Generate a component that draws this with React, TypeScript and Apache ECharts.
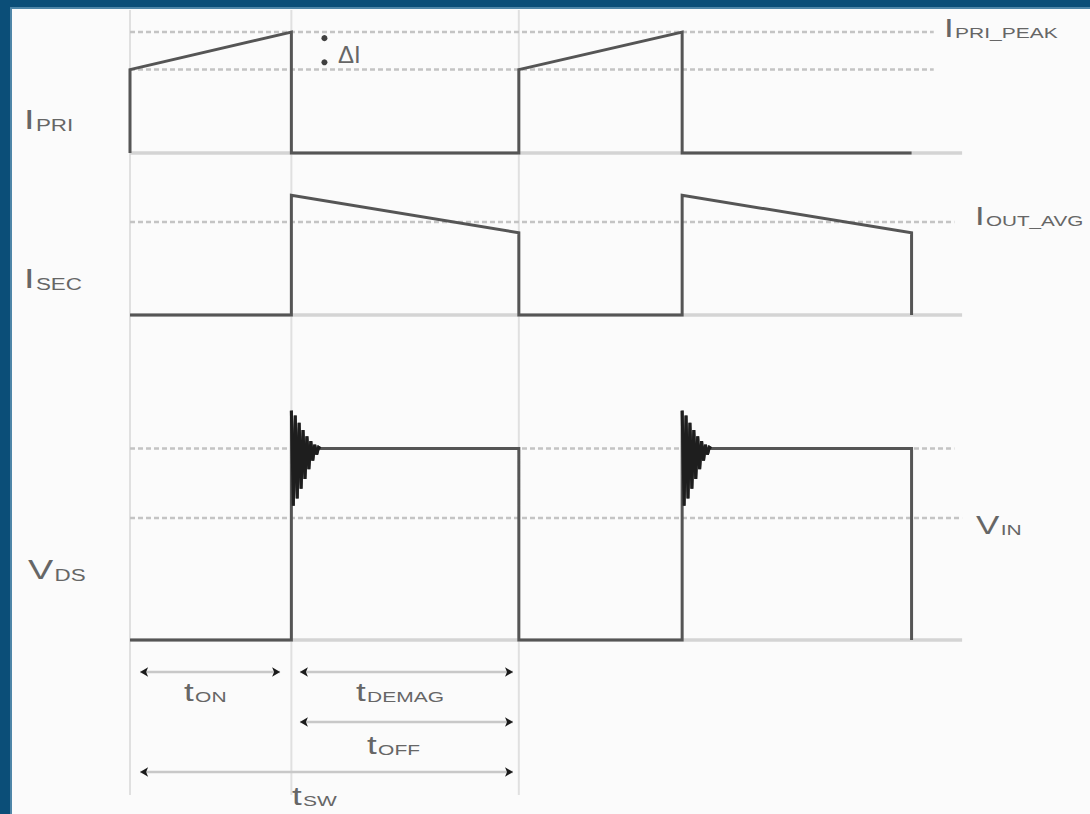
import React, { useEffect, useRef } from 'react';
import * as echarts from 'echarts';

// switching instants (time units)
const T_ON = 4.15;
const T_SW = 10;
const T_ON2 = 14.2;
const T_END2 = 20.1;
const X_MAX = 21.5;

// primary current (normalised)
const iPriTimes = [0, 0, T_ON, T_ON, T_SW, T_SW, T_ON2, T_ON2, T_END2];
const iPriValues = [0, 0.69, 1.0, 0, 0, 0.69, 1.0, 0, 0];
// secondary current
const iSecTimes = [0, T_ON, T_ON, T_SW, T_SW, T_ON2, T_ON2, T_END2, T_END2];
const iSecValues = [0, 0, 0.99, 0.68, 0, 0, 0.99, 0.68, 0];
// drain-source ringing after turn-off (offset from edge, volts)
const ringDt = [0, 0.05, 0.1, 0.15, 0.2, 0.25, 0.3, 0.35, 0.4, 0.45, 0.5, 0.55, 0.6, 0.65, 0.7, 0.75];
const ringV = [188, 110, 184, 116, 178, 124, 172, 132, 167, 140, 163, 147, 160, 152, 158, 157];
const vFlat = 157;
const vIn = 100;

// reference levels
const iPriPeak = 1.0;
const iPriValley = 0.69;
const iOutAvg = 0.77;
const refEnd = [20.67, 20.67, 21.2, 21.2, 21.4];
const baseEnd = 21.4;

// vertical guide lines
const guideTimes = [0, T_ON, T_SW];

// timing spans
const spanNames = ['ON', 'DEMAG', 'OFF', 'SW'];
const spanStart = [0.26, 4.37, 4.37, 0.26];
const spanEnd = [3.86, 9.85, 9.85, 9.85];
const spanRow = [0.5, 0.5, 1.5, 2.5];

// ΔI markers
const deltaT = 5.0;
const deltaMarks = [0.95, 0.75];

const FONT = 'Liberation Sans, Arial, sans-serif';
const TXT = '#666666';
const WAVE = '#555555';
const SX = 1.4;

function richStyle(main: number, sub: number) {
  return {
    m: { fontSize: main, fontFamily: FONT, fill: TXT, verticalAlign: 'bottom' },
    s: { fontSize: sub, fontFamily: FONT, fill: TXT, verticalAlign: 'bottom', padding: [0, 0, 0, 1] },
  } as any;
}

export default function App() {
  const ref = useRef<HTMLDivElement>(null);
  useEffect(() => {
    if (!ref.current) return;
    const chart = echarts.init(ref.current, undefined, { renderer: 'svg' });

    const pri = iPriTimes.map((t, i) => [t, iPriValues[i]]);
    const sec = iSecTimes.map((t, i) => [t, iSecValues[i]]);
    const ring = (t0: number) => ringDt.map((d, i) => [t0 + d, ringV[i]]);
    const vds = [
      [0, 0], [T_ON, 0], ...ring(T_ON), [T_SW, vFlat], [T_SW, 0],
      [T_ON2, 0], ...ring(T_ON2), [T_END2, vFlat], [T_END2, 0],
    ];

    const grids = [
      { left: 130, top: 10, width: 836, height: 785 },
      { left: 130, top: 20, width: 836, height: 133 },
      { left: 130, top: 182, width: 836, height: 133 },
      { left: 130, top: 396, width: 836, height: 244 },
      { left: 130, top: 647, width: 836, height: 150 },
    ];
    const xAxes = grids.map((_, i) => ({ type: 'value', gridIndex: i, min: 0, max: X_MAX, show: false }));
    const yAxes = [
      { type: 'value', gridIndex: 0, min: 0, max: 1, show: false },
      { type: 'value', gridIndex: 1, min: 0, max: 1.1, show: false },
      { type: 'value', gridIndex: 2, min: 0, max: 1.1, show: false },
      { type: 'value', gridIndex: 3, min: 0, max: 200, show: false },
      { type: 'value', gridIndex: 4, min: 0, max: 3, inverse: true, show: false },
    ];

    const line = (g: number, data: any[], color: string, width: number, type: any = 'solid', z = 2) => ({
      type: 'line', xAxisIndex: g, yAxisIndex: g, data, showSymbol: false, symbol: 'none',
      clip: false, silent: true, z,
      lineStyle: { color, width, type, cap: 'butt', join: 'miter' },
    });

    const series: any[] = [];
    guideTimes.forEach((t) => series.push(line(0, [[t, 0], [t, 1]], '#e0e0e0', 2, 'solid', 1)));
    [1, 2, 3].forEach((g) => series.push(line(g, [[0, 0], [baseEnd, 0]], '#d4d4d4', 3.5, 'solid', 1)));
    const DOT = [5, 3];
    series.push(line(1, [[0, iPriPeak], [refEnd[0], iPriPeak]], '#c4c4c4', 2.5, DOT, 1));
    series.push(line(1, [[0, iPriValley], [refEnd[1], iPriValley]], '#c4c4c4', 2.5, DOT, 1));
    series.push(line(2, [[0, iOutAvg], [refEnd[2], iOutAvg]], '#c4c4c4', 2.5, DOT, 1));
    series.push(line(3, [[0, vFlat], [refEnd[3], vFlat]], '#c4c4c4', 2.5, DOT, 1));
    series.push(line(3, [[0, vIn], [refEnd[4], vIn]], '#c4c4c4', 2.5, DOT, 1));
    series.push(line(1, pri, WAVE, 3));
    series.push(line(2, sec, WAVE, 3));
    series.push(line(3, vds, WAVE, 3));
    series.push(line(3, ring(T_ON), '#1e1e1e', 3, 'solid', 3));
    series.push(line(3, ring(T_ON2), '#1e1e1e', 3, 'solid', 3));
    series.push({
      type: 'scatter', xAxisIndex: 1, yAxisIndex: 1, silent: true, clip: false,
      data: deltaMarks.map((v) => [deltaT, v]), symbol: 'circle', symbolSize: 6,
      itemStyle: { color: '#111' }, z: 4,
    });
    spanNames.forEach((_, i) => {
      series.push({
        type: 'line', xAxisIndex: 4, yAxisIndex: 4, silent: true, clip: false,
        data: [[spanStart[i], spanRow[i]], [spanEnd[i], spanRow[i]]],
        symbol: 'arrow', symbolSize: [7, 8], showSymbol: true,
        symbolRotate: (_v: any, p: any) => (p.dataIndex === 0 ? 90 : -90),
        itemStyle: { color: '#1a1a1a' },
        lineStyle: { color: '#c8c8c8', width: 2.5 }, z: 3,
      });
    });

    const gtext = (x: number, y: number, main: string, sub: string, ms = 27, ss = 16, sx = SX) => ({
      type: 'text', x, y, z: 10, scaleX: sx,
      style: { text: `{m|${main}}{s|${sub}}`, rich: richStyle(ms, ss), verticalAlign: 'middle', align: 'left' },
    });

    chart.setOption({
      animation: false,
      backgroundColor: '#0b4e78',
      grid: grids,
      xAxis: xAxes,
      yAxis: yAxes,
      series,
      graphic: [
        { type: 'rect', shape: { x: 10, y: 7, width: 1080, height: 807 }, style: { fill: '#4f86a8' }, z: -2 },
        { type: 'rect', shape: { x: 12, y: 9, width: 1078, height: 805 }, style: { fill: '#fbfbfb' }, z: -1 },
        gtext(24, 120, 'I', 'PRI'),
        gtext(24, 279, 'I', 'SEC'),
        gtext(28, 570, 'V', 'DS'),
        gtext(944, 28, 'I', 'PRI_PEAK', 25, 15),
        gtext(975, 216, 'I', 'OUT_AVG', 25, 15, 1.38),
        gtext(976, 525, 'V', 'IN', 25, 15),
        gtext(184, 692, 't', spanNames[0], 25, 15),
        gtext(356, 692, 't', spanNames[1], 25, 15),
        gtext(367, 745, 't', spanNames[2], 25, 15),
        gtext(292, 796, 't', spanNames[3], 25, 15),
        { type: 'text', x: 338, y: 54, z: 10, style: { text: 'ΔI', fontSize: 24, fontFamily: FONT, fill: TXT, verticalAlign: 'middle' } },
      ],
    });
    return () => chart.dispose();
  }, []);
  return <div ref={ref} style={{ position: 'fixed', left: 0, top: 0, width: 1090, height: 814 }} />;
}
